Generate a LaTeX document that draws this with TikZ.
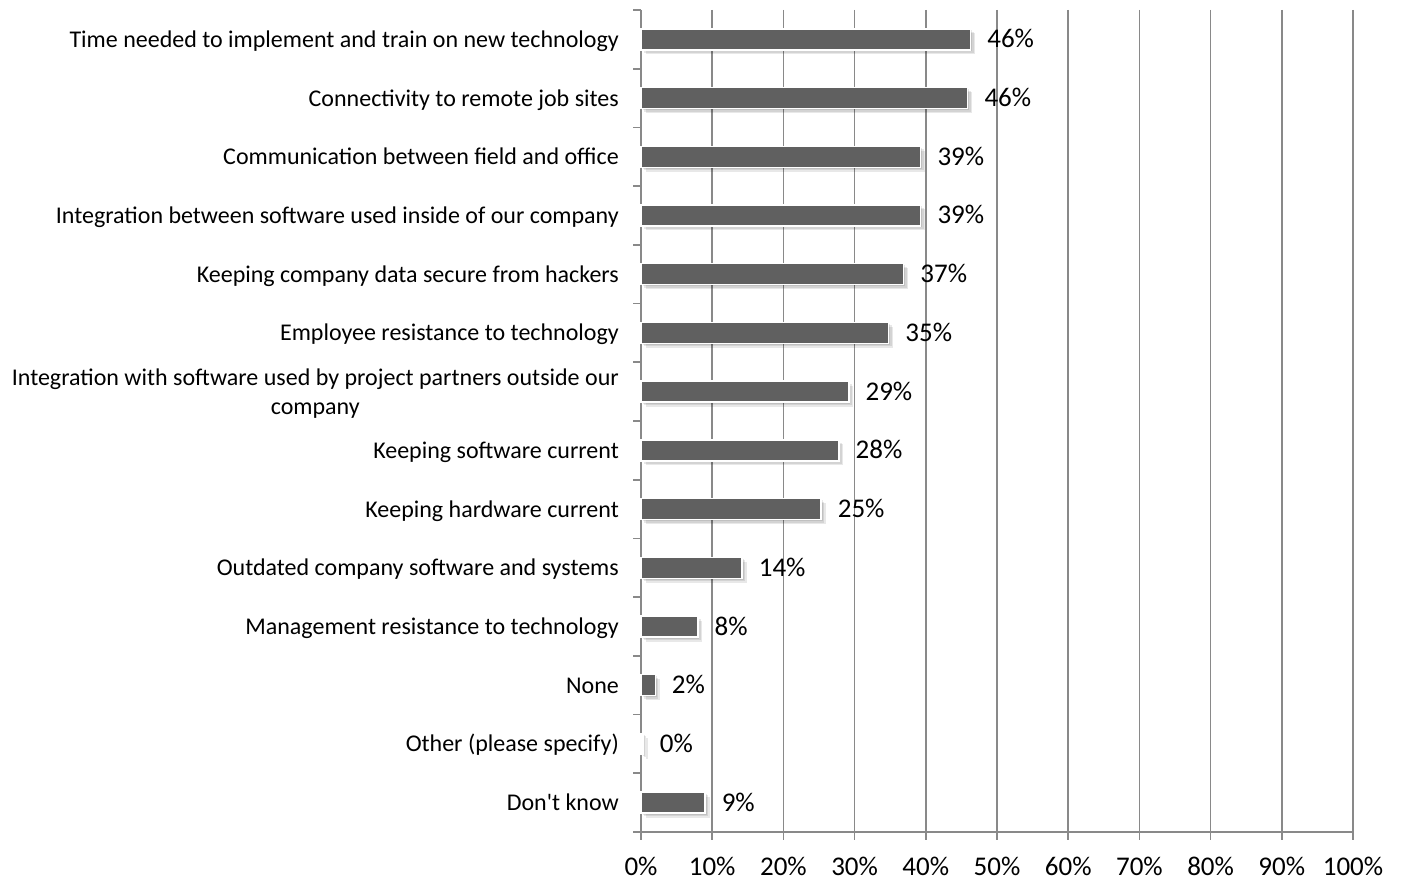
\documentclass[tikz,border=0pt]{standalone}
\usepackage{fontspec}
\setmainfont{Carlito}
\definecolor{gridc}{RGB}{137,137,137}
\definecolor{barc}{RGB}{96,96,96}
\tikzset{
  gridline/.style={draw=gridc,line width=1.6pt},
  barbox/.style={fill=barc,draw=white,line width=1.3pt},
  shadowbox/.style={fill=black,opacity=0.09,draw=none},
  catlabel/.style={anchor=base east,inner sep=0pt,font=\fontsize{24}{29}\selectfont,align=center},
  vallabel/.style={anchor=base west,inner sep=0pt,font=\fontsize{27}{30}\selectfont},
  axlabel/.style={anchor=base,inner sep=0pt,font=\fontsize{27}{30}\selectfont}
}
\begin{document}
\begin{tikzpicture}[x=1pt,y=-1pt]
\useasboundingbox (0,0) rectangle (1401,880);
% vertical gridlines
\foreach \k in {1,...,10}{
  \draw[gridline] ({641+71.2*\k},10) -- ({641+71.2*\k},840);
}
% axes
\draw[gridline] (641,10) -- (641,840);
\draw[gridline] (641,832) -- (1353,832);
\draw[gridline] (633,10) -- (641,10);
\foreach \i in {1,...,14}{
  \draw[gridline] (633,{10+58.714*\i}) -- (641,{10+58.714*\i});
}
% x labels
\foreach \k in {0,...,10}{
  \node[axlabel] (ax\k) at ({641+71.2*\k},875) {\pgfmathtruncatemacro\p{10*\k}\p\%};
}
% bars
\foreach \v/\lab [count=\i from 0] in {46.3/46\%,45.9/46\%,39.3/39\%,39.3/39\%,36.9/37\%,34.8/35\%,29.2/29\%,27.8/28\%,25.3/25\%,14.2/14\%,8.0/8\%,2.0/2\%,0.3/0\%,9.0/9\%}{
  \pgfmathsetmacro\c{10+58.714*(\i+0.5)}
  \pgfmathsetmacro\e{641+7.12*\v}
  \foreach \o in {1.5,3,4.5}{
    \fill[shadowbox] ({641+\o},{\c-10.5+\o}) rectangle ({\e+\o},{\c+10.5+\o});
  }
  \draw[barbox] (641,{\c-10.5}) rectangle (\e,{\c+10.5});
  \node[vallabel] (val\i) at ({\e+16.5},{\c+8.5}) {\lab};
}
% category labels
\foreach \t/\dy [count=\i from 0] in {
  Time needed to implement and train on new technology/8,
  Connectivity to remote job sites/8,
  Communication between field and office/8,
  Integration between software used inside of our company/8,
  Keeping company data secure from hackers/8,
  Employee resistance to technology/8,
  {Integration with software used by project partners outside our\\company}/22.5,
  Keeping software current/8,
  Keeping hardware current/8,
  Outdated company software and systems/8,
  Management resistance to technology/8,
  None/8,
  Other (please specify)/8,
  Don\textquotesingle t know/8}{
  \node[catlabel] (cat\i) at (619,{10+58.714*(\i+0.5)+\dy}) {\t};
}
\end{tikzpicture}
\end{document}
